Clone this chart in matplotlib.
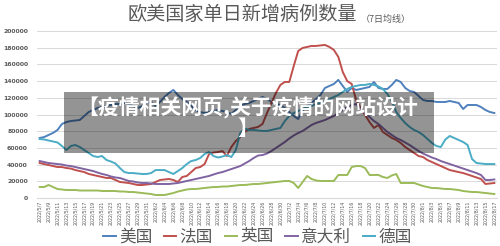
import pandas as pd
import matplotlib.pyplot as plt
from matplotlib.patches import Rectangle

plt.rcParams['font.family'] = ['Noto Sans CJK SC', 'DejaVu Sans']

# 2022/5/7 - 2022/8/17, daily 7-day average (thousands of cases)
dates = pd.date_range('2022-05-07', '2022-08-17', freq='D')
date_labels = [f"{d.year}/{d.month}/{d.day}" for d in dates]

usa = [71.9, 73.0, 75.5, 78.0, 81.5, 88.7, 91.0, 92.2, 92.8, 93.4,
       98.2, 103.0, 105.4, 107.8, 109.0, 110.2, 111.4, 112.6, 112.6, 113.8,
       112.6, 110.2, 107.8, 110.0, 113.8, 115.0, 110.2, 115.0, 121.0, 125.8,
       129.4, 123.4, 118.6, 115.0, 110.2, 105.4, 103.0, 101.8, 103.0, 104.2,
       105.4, 104.2, 103.0, 100.6, 105.4, 110.2, 112.6, 113.8, 116.2, 118.6,
       121.0, 118.6, 115.0, 112.6, 111.4, 107.8, 103.0, 98.2, 94.6, 105.4,
       110.2, 113.8, 118.6, 123.4, 131.8, 134.2, 136.6, 141.4, 134.2, 127.0,
       131.8, 129.4, 130.6, 131.8, 133.0, 139.0, 131.8, 130.6, 130.6, 135.4,
       141.4, 139.0, 131.8, 128.2, 127.0, 122.2, 117.4, 116.2, 116.2, 115.0,
       115.0, 115.0, 116.2, 115.0, 113.8, 106.6, 111.4, 111.4, 111.4, 109.0,
       105.4, 103.0, 101.8]

france = [41.9, 40.7, 39.5, 38.3, 37.1, 37.1, 35.9, 35.3, 33.5, 32.3,
          31.1, 28.8, 27.6, 26.4, 25.2, 24.0, 24.0, 21.6, 19.2, 18.6,
          18.0, 16.8, 15.6, 15.6, 16.2, 16.8, 19.2, 21.6, 22.2, 22.8,
          21.6, 19.2, 25.2, 26.4, 31.1, 35.9, 37.1, 40.7, 52.7, 54.5,
          55.1, 56.3, 50.3, 61.1, 68.3, 73.1, 79.1, 82.7, 83.9, 85.1,
          88.7, 101.8, 113.8, 125.8, 135.4, 139.0, 139.0, 158.1, 176.1, 179.7,
          180.9, 182.1, 182.1, 182.7, 183.3, 180.9, 177.3, 169.0, 150.9, 140.0,
          136.6, 117.4, 107.8, 99.4, 91.0, 83.9, 87.5, 79.1, 75.5, 71.9,
          69.5, 65.9, 61.1, 57.5, 53.9, 50.3, 49.1, 45.5, 43.1, 40.7,
          38.3, 35.9, 33.5, 32.3, 31.1, 29.9, 28.2, 26.4, 24.6, 22.8,
          16.8, 17.4, 18.0]

uk = [13.2, 13.2, 15.6, 13.2, 10.8, 10.2, 9.6, 9.6, 9.6, 9.0,
      9.0, 9.0, 9.0, 9.0, 8.4, 8.4, 8.4, 8.4, 7.8, 7.8,
      7.2, 7.2, 6.6, 6.0, 5.4, 4.8, 3.6, 3.6, 3.6, 4.8,
      6.0, 7.8, 9.0, 10.2, 10.8, 10.8, 11.4, 12.0, 12.6, 13.2,
      13.2, 13.8, 13.8, 14.4, 15.0, 15.6, 15.6, 16.2, 16.8, 16.8,
      17.4, 18.0, 18.6, 19.2, 19.8, 20.4, 20.4, 18.0, 12.0, 19.2,
      26.4, 22.8, 21.0, 20.4, 20.4, 20.4, 20.4, 27.6, 27.6, 27.6,
      37.1, 38.3, 38.3, 35.9, 27.6, 27.6, 27.6, 25.2, 24.0, 27.0,
      28.8, 18.0, 18.0, 18.0, 18.0, 16.2, 14.4, 13.2, 12.0, 12.0,
      11.4, 10.8, 10.8, 10.2, 9.6, 8.4, 7.8, 7.2, 7.2, 6.6,
      6.0, 5.4, 4.8]

italy = [44.3, 43.1, 41.9, 41.3, 40.7, 40.1, 38.9, 38.3, 37.1, 35.9,
         34.7, 33.5, 32.3, 30.5, 28.8, 27.6, 25.8, 24.6, 24.0, 22.2,
         20.4, 19.8, 18.6, 18.0, 18.0, 17.4, 16.8, 16.8, 16.8, 16.8,
         17.4, 18.0, 19.2, 20.4, 21.6, 22.8, 24.0, 25.2, 26.4, 28.2,
         29.9, 31.1, 32.9, 34.7, 36.5, 38.3, 41.3, 44.3, 47.9, 50.9,
         51.5, 53.3, 56.3, 59.9, 63.5, 67.1, 71.3, 74.9, 77.9, 80.3,
         83.9, 87.5, 89.9, 91.6, 93.4, 95.8, 98.2, 101.8, 105.4, 109.0,
         111.4, 112.6, 106.6, 101.8, 97.0, 92.2, 88.7, 83.9, 79.1, 75.5,
         71.9, 69.5, 66.5, 63.5, 59.9, 56.3, 53.3, 50.9, 48.5, 46.7,
         44.3, 42.5, 40.7, 38.9, 37.1, 35.3, 33.5, 31.7, 29.9, 27.6,
         21.6, 21.6, 22.2]

germany = [70.7, 70.1, 68.9, 67.7, 66.5, 62.3, 57.5, 62.3, 63.5, 61.1,
           57.5, 53.9, 50.3, 49.1, 50.3, 45.5, 43.7, 41.3, 35.9, 31.1,
           29.9, 29.9, 29.3, 28.8, 28.8, 29.9, 33.5, 33.5, 33.5, 31.1,
           28.8, 32.3, 35.9, 40.7, 44.3, 45.5, 47.9, 52.7, 55.1, 50.3,
           48.5, 49.7, 51.5, 49.1, 57.5, 77.9, 83.1, 81.5, 81.5, 80.9,
           80.3, 80.3, 81.5, 82.7, 83.9, 92.2, 98.2, 101.8, 104.2, 106.6,
           109.0, 110.2, 112.6, 113.8, 116.2, 118.6, 121.0, 123.4, 127.0, 130.6,
           133.0, 134.2, 135.4, 135.4, 136.6, 135.4, 133.6, 130.6, 124.6, 116.2,
           103.0, 95.8, 89.9, 85.1, 81.5, 79.1, 75.5, 70.7, 65.9, 62.3,
           61.1, 70.0, 74.3, 71.9, 69.5, 67.1, 63.5, 46.7, 41.9, 41.3,
           40.7, 40.7, 40.7]

series = [('美国', usa, '#4F81BD'), ('法国', france, '#C0504D'),
          ('英国', uk, '#9BBB59'), ('意大利', italy, '#8064A2'),
          ('德国', germany, '#4BACC6')]

fig = plt.figure(figsize=(5, 2.46), dpi=100)
ax = fig.add_axes([0.074, 0.195, 0.92, 0.679])

x = list(range(len(dates)))
for name, vals, color in series:
    ax.plot(x, [v * 1000 for v in vals], color=color, lw=1.4, label=name)

ax.set_xlim(-0.6, len(dates) - 0.4)
ax.set_ylim(0, 200000)
ax.set_yticks(range(0, 200001, 20000))
ax.set_yticklabels([str(v) for v in range(0, 200001, 20000)],
                   fontsize=4.4, color='#595959', fontweight='bold', family='DejaVu Sans')
ax.set_xticks(x[::2])
ax.set_xticklabels(date_labels[::2], rotation=90, fontsize=3.4, color='#595959',
                   family='DejaVu Sans')
ax.tick_params(axis='y', length=0, pad=6.5)
ax.tick_params(axis='x', length=0, pad=2)
ax.grid(axis='y', color='#d9d9d9', lw=0.7)
ax.set_axisbelow(True)
for s in ['top', 'right', 'left']:
    ax.spines[s].set_visible(False)
ax.spines['bottom'].set_color('#d9d9d9')

fig.text(0.256, 1 - 14 / 246, '欧美国家单日新增病例数量', fontsize=13.8,
         color='#595959', va='center', ha='left')
fig.text(0.722, 1 - 19 / 246, '（7日均线）', fontsize=6.5, color='#595959',
         va='center', ha='left')

leg = fig.legend(loc='center', bbox_to_anchor=(0.515, 1 - 237 / 246), ncol=5,
                 frameon=False, fontsize=12, handlelength=0.75, handletextpad=0.2,
                 columnspacing=0.7, labelcolor='#595959')

# watermark box over the plot
fig.patches.append(Rectangle((64 / 500, 1 - 153 / 246), 370 / 500, 61 / 246,
                             transform=fig.transFigure, facecolor='black',
                             alpha=0.42, edgecolor='none', zorder=5))
fig.text(248 / 500, 1 - 108 / 246, '【疫情相关网页,关于疫情的网站设计', fontsize=15,
         color='white', fontweight='bold', ha='center', va='center', zorder=6)
fig.text(248 / 500, 1 - 128 / 246, '】', fontsize=15, color='white',
         fontweight='bold', ha='center', va='center', zorder=6)

fig.savefig('out.png', dpi=100)
